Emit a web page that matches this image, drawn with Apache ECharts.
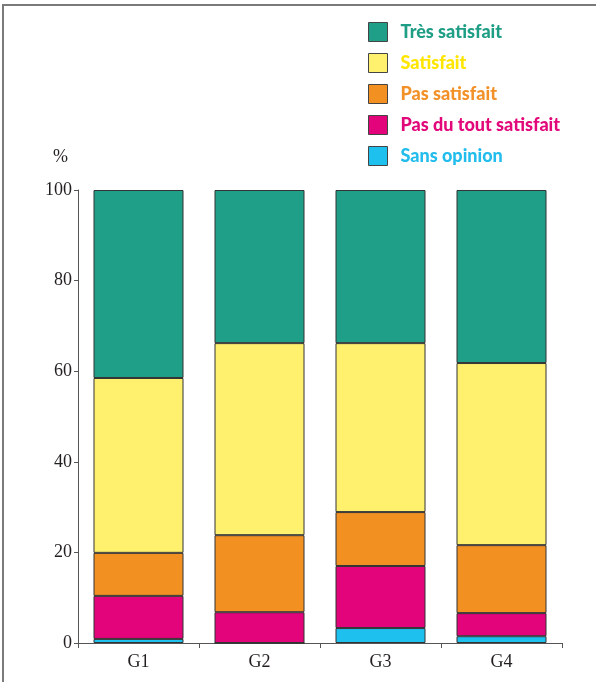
<!DOCTYPE html>
<html><head><meta charset="utf-8">
<script src="https://cdn.jsdelivr.net/npm/echarts@6/dist/echarts.min.js"></script>
<style>html,body{margin:0;padding:0;background:#fff}#c{width:596px;height:682px}</style>
</head><body><div id="c"></div>
<script>
var categories = ['G1', 'G2', 'G3', 'G4'];
var sansOpinion = [0.9, 0, 3.3, 1.5];
var pasDuTout = [9.5, 6.8, 13.7, 5.1];
var pasSatisfait = [9.5, 17.0, 11.9, 15.0];
var satisfait = [38.6, 42.4, 37.3, 40.2];
var tresSatisfait = [41.5, 33.8, 33.8, 38.2];
var yTicks = [0, 20, 40, 60, 80, 100];

var seriesDefs = [
  {name: 'Sans opinion', data: sansOpinion, color: '#1ec1ee', text: '#22bdec'},
  {name: 'Pas du tout satisfait', data: pasDuTout, color: '#e3037a', text: '#e2087a'},
  {name: 'Pas satisfait', data: pasSatisfait, color: '#f39022', text: '#f39129'},
  {name: 'Satisfait', data: satisfait, color: '#fff16e', text: '#ffe600'},
  {name: 'Très satisfait', data: tresSatisfait, color: '#1f9e88', text: '#1f9e86'}
];

var chart = echarts.init(document.getElementById('c'));
var serif = '"Liberation Serif", "DejaVu Serif", serif';
chart.setOption({
  animation: false,
  backgroundColor: '#fff',
  grid: {left: 78, right: 34, top: 190, bottom: 39, containLabel: false},
  legend: {
    orient: 'vertical', left: 363, top: 17,
    itemWidth: 19, itemHeight: 19, itemGap: 11,
    icon: 'rect',
    data: seriesDefs.slice().reverse().map(function (s) {
      return {name: s.name, itemStyle: {color: s.color, borderColor: '#444', borderWidth: 1},
              textStyle: {color: s.text}};
    }),
    textStyle: {fontFamily: 'Lato', fontWeight: 900, fontSize: 18, lineHeight: 19, padding: [0, 0, 0, 8]},
    selectedMode: false
  },
  xAxis: {
    type: 'category', data: categories,
    axisLine: {lineStyle: {color: '#555', width: 1}},
    axisTick: {show: true, alignWithLabel: false, length: 5, lineStyle: {color: '#555'}},
    axisLabel: {fontFamily: serif, fontSize: 18, color: '#231f20', margin: 10}
  },
  yAxis: {
    type: 'value', min: 0, max: 100, interval: 20,
    name: '%', nameLocation: 'end', nameGap: 33,
    nameTextStyle: {fontFamily: serif, fontSize: 18, color: '#231f20', align: 'right', verticalAlign: 'middle', padding: [0, 10, 0, 0]},
    axisLine: {show: true, lineStyle: {color: '#555', width: 1}},
    axisTick: {show: true, length: 4, lineStyle: {color: '#555'}},
    axisLabel: {fontFamily: serif, fontSize: 18, color: '#231f20', margin: 6,
      formatter: function (v) { return yTicks.indexOf(v) >= 0 ? String(v) : ''; }},
    splitLine: {show: false}
  },
  graphic: [
    {type: 'line', shape: {x1: 3, y1: 5, x2: 3, y2: 682}, style: {stroke: '#7a7a7a', lineWidth: 2}},
    {type: 'line', shape: {x1: 2, y1: 5, x2: 596, y2: 5}, style: {stroke: '#7a7a7a', lineWidth: 2}}
  ],
  series: seriesDefs.map(function (s) {
    return {
      name: s.name, type: 'bar', stack: 'total', data: s.data, barWidth: 90,
      itemStyle: {color: s.color, borderColor: '#333', borderWidth: 1}
    };
  })
});
</script></body></html>
